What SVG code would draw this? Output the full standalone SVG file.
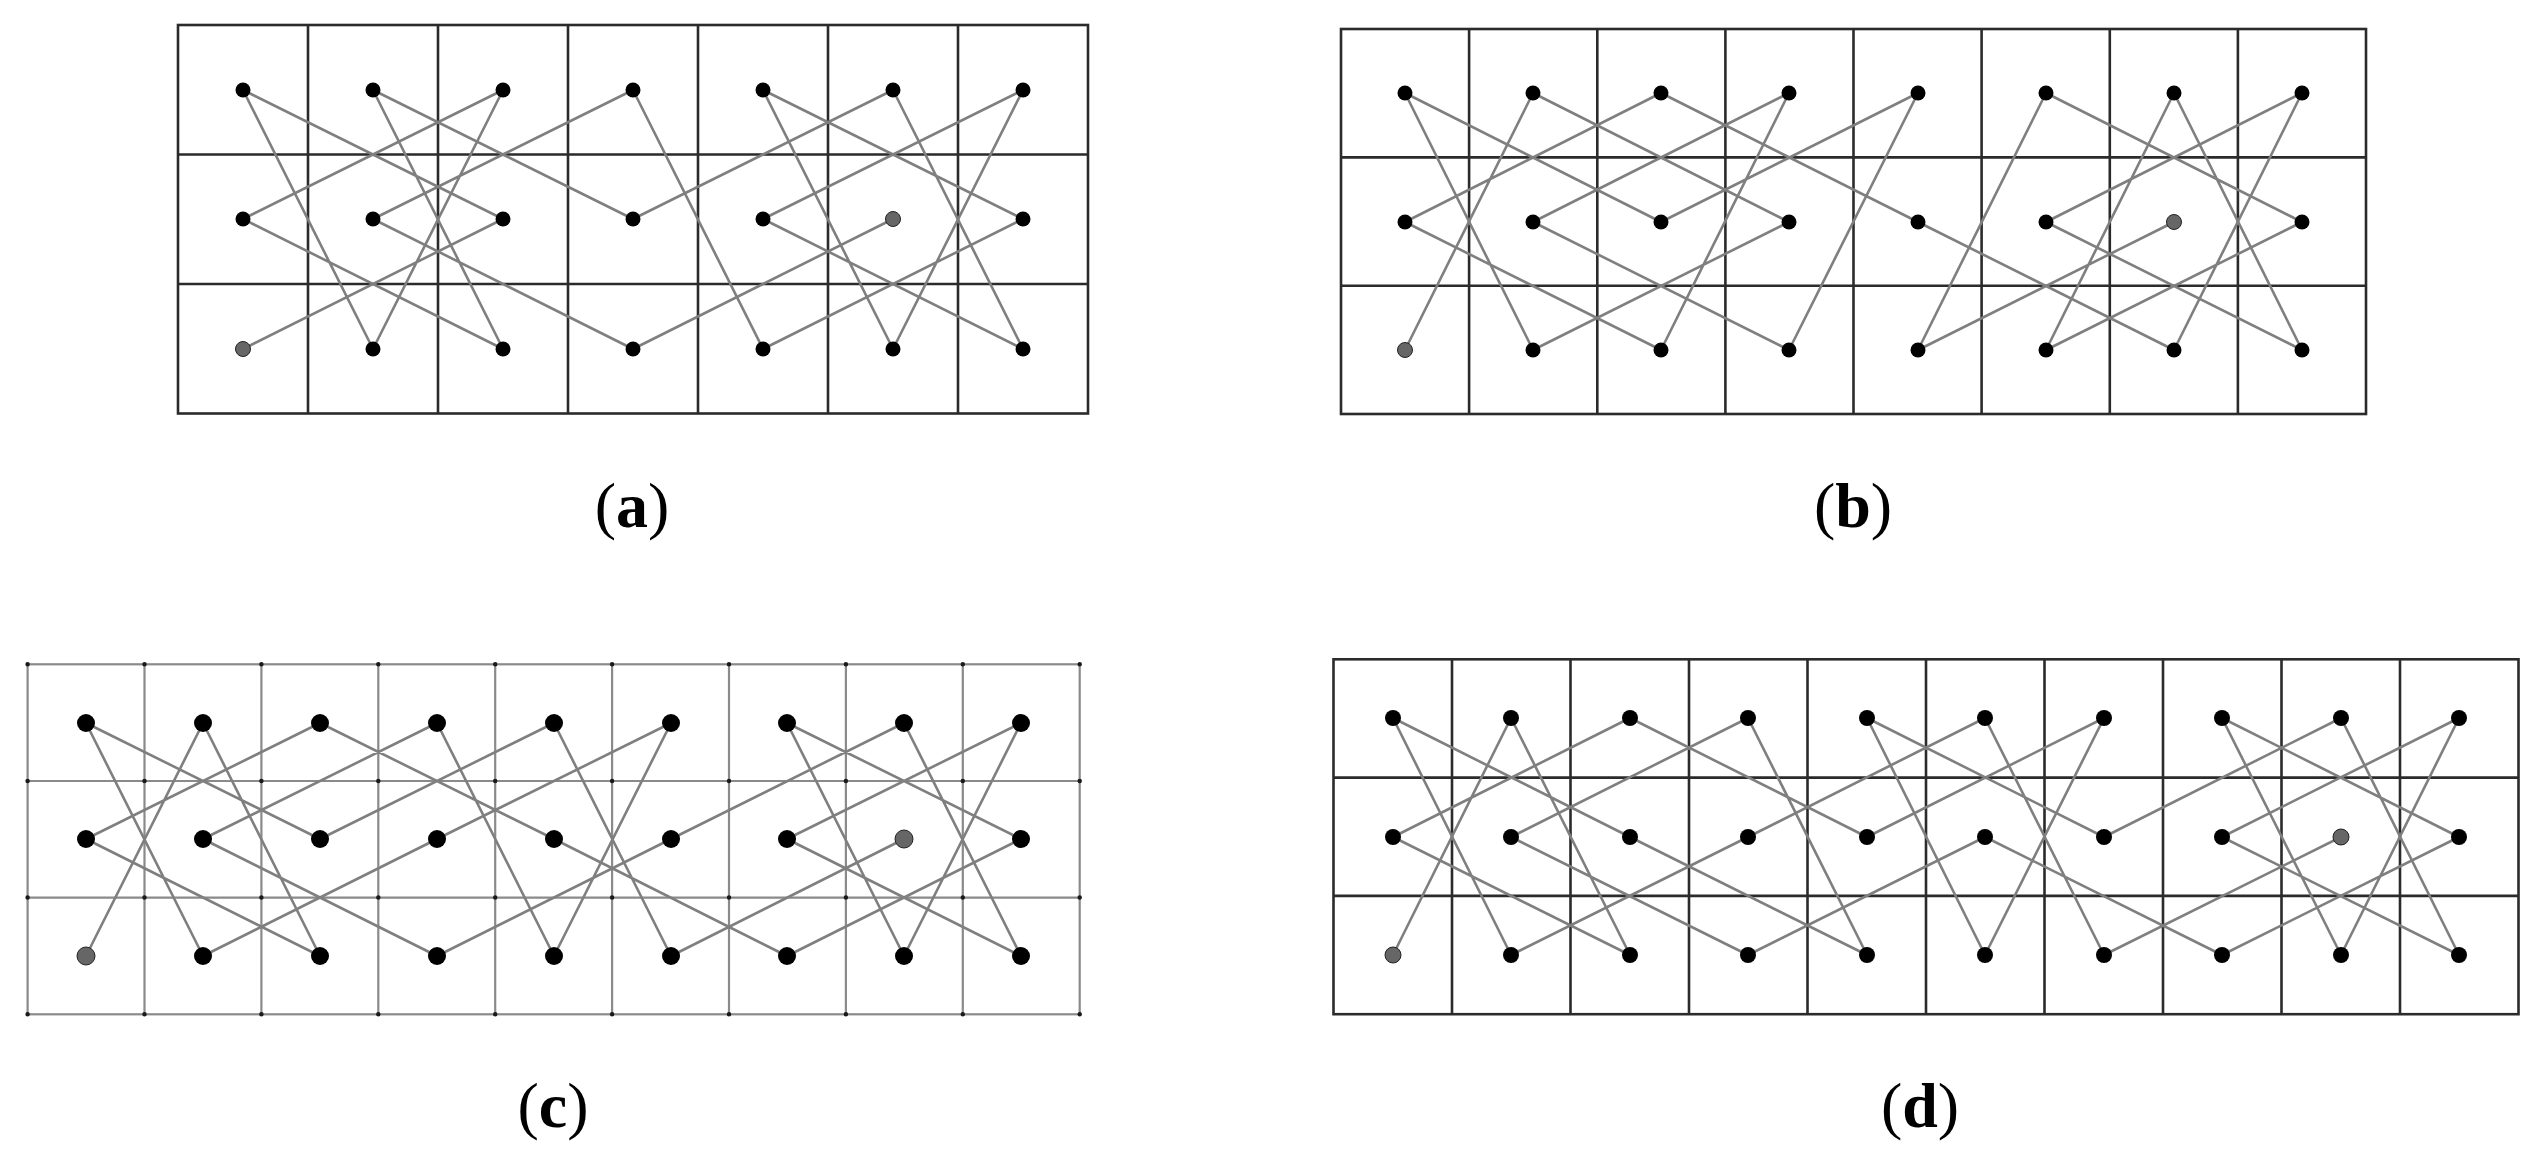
<svg xmlns="http://www.w3.org/2000/svg" width="2541" height="1163" viewBox="0 0 2541 1163">
<style>
.grid{fill:none;stroke:#2b2b2b;stroke-width:2.6}
.gridc{fill:none;stroke:#8a8a8a;stroke-width:2.2}
.tick{fill:none;stroke:#1a1a1a;stroke-width:4.5;stroke-linecap:round;stroke-dasharray:0 116.9}
.tour{fill:none;stroke:#7f7f7f;stroke-width:2.6;stroke-linejoin:round;stroke-linecap:round}
.n{fill:#000}
.s{fill:#666;stroke:#222;stroke-width:1}
.lbl{font-family:"Liberation Serif","DejaVu Serif",serif;font-size:64px;fill:#000;text-anchor:middle}
.lbl tspan{font-weight:bold}
</style>
<rect width="2541" height="1163" fill="#fff"/>
<g id="grids">
<g id="grid-a">
<rect class="grid" x="178" y="25" width="910" height="388.5"/>
<path class="grid" d="M308 25V413.5M438 25V413.5M568 25V413.5M698 25V413.5M828 25V413.5M958 25V413.5M178 154.5H1088M178 284H1088"/>
</g>
<g id="grid-b">
<rect class="grid" x="1341" y="29" width="1025" height="385"/>
<path class="grid" d="M1469.1 29V414M1597.3 29V414M1725.4 29V414M1853.5 29V414M1981.6 29V414M2109.8 29V414M2237.9 29V414M1341 157.4H2366M1341 285.8H2366"/>
</g>
<g id="grid-c">
<rect class="gridc" x="27.6" y="664.3" width="1052.1" height="350"/>
<path class="gridc" d="M144.5 664.3V1014.3M261.4 664.3V1014.3M378.3 664.3V1014.3M495.2 664.3V1014.3M612.1 664.3V1014.3M729 664.3V1014.3M845.9 664.3V1014.3M962.8 664.3V1014.3M27.6 781H1079.7M27.6 897.6H1079.7"/>
<path class="tick" d="M27.6 664.3H1082M27.6 781H1082M27.6 897.6H1082M27.6 1014.3H1082"/>
</g>
<g id="grid-d">
<rect class="grid" x="1333.5" y="659.3" width="1185" height="354.9"/>
<path class="grid" d="M1452 659.3V1014.2M1570.5 659.3V1014.2M1689 659.3V1014.2M1807.5 659.3V1014.2M1926 659.3V1014.2M2044.5 659.3V1014.2M2163 659.3V1014.2M2281.5 659.3V1014.2M2400 659.3V1014.2M1333.5 777.6H2518.5M1333.5 895.9H2518.5"/>
</g>
</g>
<g id="connectors">
<polyline id="tour-a" class="tour" points="243,349 503,219 243,90 373,349 503,90 243,219 503,349 373,90 633,219 893,90 1023,349 763,219 1023,90 893,349 763,90 1023,219 763,349 633,90 373,219 633,349 893,219"/>
<polyline id="tour-b" class="tour" points="1405,350 1533,93 1789,222 1533,350 1405,93 1661,222 1918,93 1789,350 1533,222 1789,93 1661,350 1405,222 1661,93 1918,222 2174,350 2302,93 2046,222 2302,350 2174,93 2046,350 2302,222 2046,93 1918,350 2174,222"/>
<polyline id="tour-c" class="tour" points="86,956 203,723 320,956 86,839 320,723 554,839 787,956 1021,839 787,723 904,956 1021,723 787,839 1021,956 904,723 671,839 437,956 203,839 437,723 554,956 671,723 437,839 203,956 86,723 320,839 554,723 671,956 904,839"/>
<polyline id="tour-d" class="tour" points="1393,955 1511,718 1630,955 1393,837 1630,718 1867,837 2104,718 1985,955 1867,718 2104,837 2341,718 2459,955 2222,837 2459,718 2341,955 2222,718 2459,837 2222,955 1985,837 1748,955 1511,837 1748,718 1867,955 1630,837 1393,718 1511,955 1748,837 1985,718 2104,955 2341,837"/>
</g>
<g id="nodes-a">
<g id="a00"><circle class="n" cx="243" cy="90" r="7.5"/></g>
<g id="a10"><circle class="n" cx="373" cy="90" r="7.5"/></g>
<g id="a20"><circle class="n" cx="503" cy="90" r="7.5"/></g>
<g id="a30"><circle class="n" cx="633" cy="90" r="7.5"/></g>
<g id="a40"><circle class="n" cx="763" cy="90" r="7.5"/></g>
<g id="a50"><circle class="n" cx="893" cy="90" r="7.5"/></g>
<g id="a60"><circle class="n" cx="1023" cy="90" r="7.5"/></g>
<g id="a01"><circle class="n" cx="243" cy="219" r="7.5"/></g>
<g id="a11"><circle class="n" cx="373" cy="219" r="7.5"/></g>
<g id="a21"><circle class="n" cx="503" cy="219" r="7.5"/></g>
<g id="a31"><circle class="n" cx="633" cy="219" r="7.5"/></g>
<g id="a41"><circle class="n" cx="763" cy="219" r="7.5"/></g>
<g id="a51"><circle class="s" cx="893" cy="219" r="7.5"/></g>
<g id="a61"><circle class="n" cx="1023" cy="219" r="7.5"/></g>
<g id="a02"><circle class="s" cx="243" cy="349" r="7.5"/></g>
<g id="a12"><circle class="n" cx="373" cy="349" r="7.5"/></g>
<g id="a22"><circle class="n" cx="503" cy="349" r="7.5"/></g>
<g id="a32"><circle class="n" cx="633" cy="349" r="7.5"/></g>
<g id="a42"><circle class="n" cx="763" cy="349" r="7.5"/></g>
<g id="a52"><circle class="n" cx="893" cy="349" r="7.5"/></g>
<g id="a62"><circle class="n" cx="1023" cy="349" r="7.5"/></g>
</g>
<g id="nodes-b">
<g id="b00"><circle class="n" cx="1405" cy="93" r="7.5"/></g>
<g id="b10"><circle class="n" cx="1533" cy="93" r="7.5"/></g>
<g id="b20"><circle class="n" cx="1661" cy="93" r="7.5"/></g>
<g id="b30"><circle class="n" cx="1789" cy="93" r="7.5"/></g>
<g id="b40"><circle class="n" cx="1918" cy="93" r="7.5"/></g>
<g id="b50"><circle class="n" cx="2046" cy="93" r="7.5"/></g>
<g id="b60"><circle class="n" cx="2174" cy="93" r="7.5"/></g>
<g id="b70"><circle class="n" cx="2302" cy="93" r="7.5"/></g>
<g id="b01"><circle class="n" cx="1405" cy="222" r="7.5"/></g>
<g id="b11"><circle class="n" cx="1533" cy="222" r="7.5"/></g>
<g id="b21"><circle class="n" cx="1661" cy="222" r="7.5"/></g>
<g id="b31"><circle class="n" cx="1789" cy="222" r="7.5"/></g>
<g id="b41"><circle class="n" cx="1918" cy="222" r="7.5"/></g>
<g id="b51"><circle class="n" cx="2046" cy="222" r="7.5"/></g>
<g id="b61"><circle class="s" cx="2174" cy="222" r="7.5"/></g>
<g id="b71"><circle class="n" cx="2302" cy="222" r="7.5"/></g>
<g id="b02"><circle class="s" cx="1405" cy="350" r="7.5"/></g>
<g id="b12"><circle class="n" cx="1533" cy="350" r="7.5"/></g>
<g id="b22"><circle class="n" cx="1661" cy="350" r="7.5"/></g>
<g id="b32"><circle class="n" cx="1789" cy="350" r="7.5"/></g>
<g id="b42"><circle class="n" cx="1918" cy="350" r="7.5"/></g>
<g id="b52"><circle class="n" cx="2046" cy="350" r="7.5"/></g>
<g id="b62"><circle class="n" cx="2174" cy="350" r="7.5"/></g>
<g id="b72"><circle class="n" cx="2302" cy="350" r="7.5"/></g>
</g>
<g id="nodes-c">
<g id="c00"><circle class="n" cx="86" cy="723" r="9"/></g>
<g id="c10"><circle class="n" cx="203" cy="723" r="9"/></g>
<g id="c20"><circle class="n" cx="320" cy="723" r="9"/></g>
<g id="c30"><circle class="n" cx="437" cy="723" r="9"/></g>
<g id="c40"><circle class="n" cx="554" cy="723" r="9"/></g>
<g id="c50"><circle class="n" cx="671" cy="723" r="9"/></g>
<g id="c60"><circle class="n" cx="787" cy="723" r="9"/></g>
<g id="c70"><circle class="n" cx="904" cy="723" r="9"/></g>
<g id="c80"><circle class="n" cx="1021" cy="723" r="9"/></g>
<g id="c01"><circle class="n" cx="86" cy="839" r="9"/></g>
<g id="c11"><circle class="n" cx="203" cy="839" r="9"/></g>
<g id="c21"><circle class="n" cx="320" cy="839" r="9"/></g>
<g id="c31"><circle class="n" cx="437" cy="839" r="9"/></g>
<g id="c41"><circle class="n" cx="554" cy="839" r="9"/></g>
<g id="c51"><circle class="n" cx="671" cy="839" r="9"/></g>
<g id="c61"><circle class="n" cx="787" cy="839" r="9"/></g>
<g id="c71"><circle class="s" cx="904" cy="839" r="9"/></g>
<g id="c81"><circle class="n" cx="1021" cy="839" r="9"/></g>
<g id="c02"><circle class="s" cx="86" cy="956" r="9"/></g>
<g id="c12"><circle class="n" cx="203" cy="956" r="9"/></g>
<g id="c22"><circle class="n" cx="320" cy="956" r="9"/></g>
<g id="c32"><circle class="n" cx="437" cy="956" r="9"/></g>
<g id="c42"><circle class="n" cx="554" cy="956" r="9"/></g>
<g id="c52"><circle class="n" cx="671" cy="956" r="9"/></g>
<g id="c62"><circle class="n" cx="787" cy="956" r="9"/></g>
<g id="c72"><circle class="n" cx="904" cy="956" r="9"/></g>
<g id="c82"><circle class="n" cx="1021" cy="956" r="9"/></g>
</g>
<g id="nodes-d">
<g id="d00"><circle class="n" cx="1393" cy="718" r="8"/></g>
<g id="d10"><circle class="n" cx="1511" cy="718" r="8"/></g>
<g id="d20"><circle class="n" cx="1630" cy="718" r="8"/></g>
<g id="d30"><circle class="n" cx="1748" cy="718" r="8"/></g>
<g id="d40"><circle class="n" cx="1867" cy="718" r="8"/></g>
<g id="d50"><circle class="n" cx="1985" cy="718" r="8"/></g>
<g id="d60"><circle class="n" cx="2104" cy="718" r="8"/></g>
<g id="d70"><circle class="n" cx="2222" cy="718" r="8"/></g>
<g id="d80"><circle class="n" cx="2341" cy="718" r="8"/></g>
<g id="d90"><circle class="n" cx="2459" cy="718" r="8"/></g>
<g id="d01"><circle class="n" cx="1393" cy="837" r="8"/></g>
<g id="d11"><circle class="n" cx="1511" cy="837" r="8"/></g>
<g id="d21"><circle class="n" cx="1630" cy="837" r="8"/></g>
<g id="d31"><circle class="n" cx="1748" cy="837" r="8"/></g>
<g id="d41"><circle class="n" cx="1867" cy="837" r="8"/></g>
<g id="d51"><circle class="n" cx="1985" cy="837" r="8"/></g>
<g id="d61"><circle class="n" cx="2104" cy="837" r="8"/></g>
<g id="d71"><circle class="n" cx="2222" cy="837" r="8"/></g>
<g id="d81"><circle class="s" cx="2341" cy="837" r="8"/></g>
<g id="d91"><circle class="n" cx="2459" cy="837" r="8"/></g>
<g id="d02"><circle class="s" cx="1393" cy="955" r="8"/></g>
<g id="d12"><circle class="n" cx="1511" cy="955" r="8"/></g>
<g id="d22"><circle class="n" cx="1630" cy="955" r="8"/></g>
<g id="d32"><circle class="n" cx="1748" cy="955" r="8"/></g>
<g id="d42"><circle class="n" cx="1867" cy="955" r="8"/></g>
<g id="d52"><circle class="n" cx="1985" cy="955" r="8"/></g>
<g id="d62"><circle class="n" cx="2104" cy="955" r="8"/></g>
<g id="d72"><circle class="n" cx="2222" cy="955" r="8"/></g>
<g id="d82"><circle class="n" cx="2341" cy="955" r="8"/></g>
<g id="d92"><circle class="n" cx="2459" cy="955" r="8"/></g>
</g>
<g id="labels">
<text class="lbl" x="632" y="527">(<tspan>a</tspan>)</text>
<text class="lbl" x="1853" y="527">(<tspan>b</tspan>)</text>
<text class="lbl" x="553" y="1127">(<tspan>c</tspan>)</text>
<text class="lbl" x="1920" y="1127">(<tspan>d</tspan>)</text>
</g>
</svg>
